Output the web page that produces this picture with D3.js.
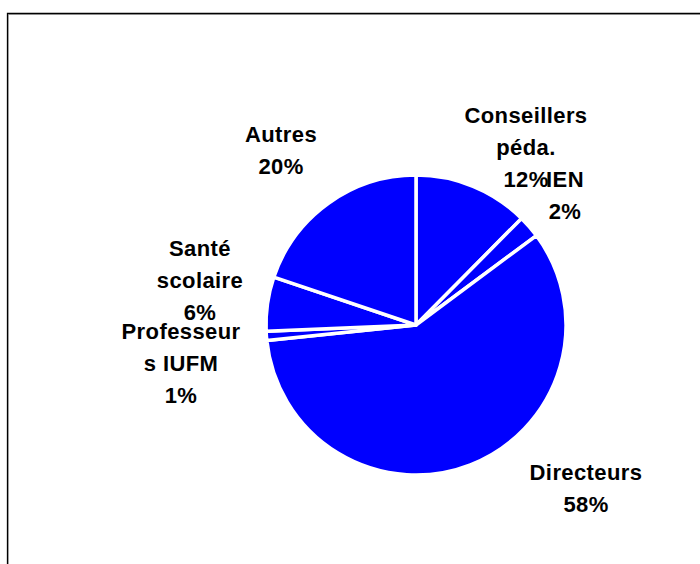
<!DOCTYPE html>
<html>
<head>
<meta charset="utf-8">
<script src="https://cdn.jsdelivr.net/npm/d3@7"></script>
<style>
  body { margin: 0; background: #fff; }
  text { font-family: "Liberation Sans", Arial, sans-serif; font-weight: bold; fill: #000; }
</style>
</head>
<body>
<div id="chart"></div>
<script>
// slices in clockwise order from 12 o'clock
const categories = ['Conseillers péda.', 'IEN', 'Directeurs', 'Professeurs IUFM', 'Santé scolaire', 'Autres'];
const shares = [12.4, 2.4, 58.4, 1.0, 5.8, 19.8];
const pctLabels = ['12%', '2%', '58%', '1%', '6%', '20%'];
// label text lines as shown on the chart (Excel wraps them)
const labelLines = [
  ['Conseillers', 'péda.', '12%'],
  ['IEN', '2%'],
  ['Directeurs', '58%'],
  ['Professeur', 's IUFM', '1%'],
  ['Santé', 'scolaire', '6%'],
  ['Autres', '20%']
];

const width = 700, height = 564;
const cx = 416, cy = 325, radius = 150;

// where each label block sits (x center, first baseline), relative to pie centre
const labelSpots = [
  [110, -202],
  [149, -138],
  [170, 155],
  [-235, 14],
  [-216, -69],
  [-135, -183]
];
const lineGap = 32;

const svg = d3.select('#chart').append('svg')
  .attr('width', width)
  .attr('height', height);

// frame (black edge with grey shadow, runs off right and bottom)
svg.append('path').attr('d', 'M8.5,' + (height + 5) + 'V14.5H' + (width + 5))
  .attr('fill', 'none').attr('stroke', '#bbb').attr('stroke-width', 1);
svg.append('path').attr('d', 'M7.5,' + (height + 5) + 'V13.5H' + (width + 5))
  .attr('fill', 'none').attr('stroke', '#000').attr('stroke-width', 1.3);

const pie = d3.pie().sort(null).value(d => d)(shares);
const arc = d3.arc().innerRadius(0).outerRadius(radius);

const g = svg.append('g').attr('transform', `translate(${cx},${cy})`);

g.selectAll('path.slice')
  .data(pie)
  .join('path')
  .attr('class', 'slice')
  .attr('d', arc)
  .attr('fill', '#0000ff')
  .attr('stroke', '#fff')
  .attr('stroke-width', 3.5)
  .attr('stroke-linejoin', 'round');

const labels = g.selectAll('text.lab')
  .data(labelLines)
  .join('text')
  .attr('class', 'lab')
  .attr('text-anchor', 'middle')
  .attr('font-size', 22)
  .attr('letter-spacing', 0.4);

labels.each(function (lines, i) {
  const t = d3.select(this);
  lines.forEach((s, j) => {
    t.append('tspan')
      .attr('x', labelSpots[i][0])
      .attr('y', labelSpots[i][1] + j * lineGap)
      .text(s);
  });
});
</script>
</body>
</html>
